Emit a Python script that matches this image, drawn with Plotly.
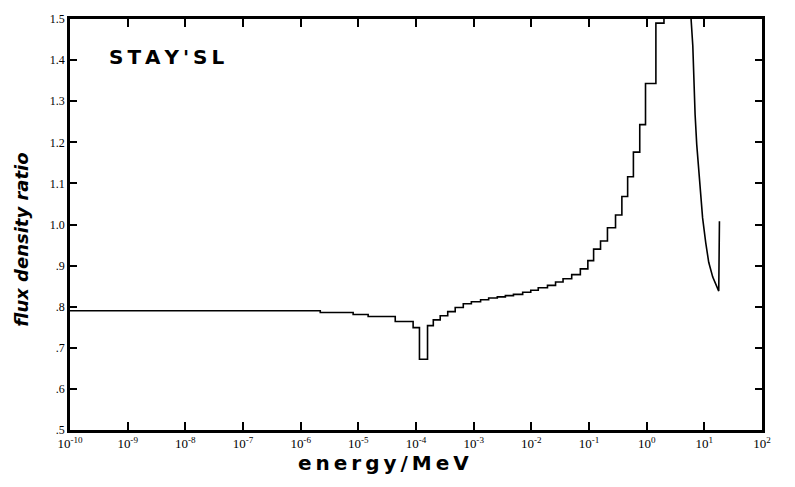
import plotly.graph_objects as go

# Step part: bin lower edges as log10(energy / MeV) and flux density ratio per bin
log_energy = [-10.0, -5.66, -5.09, -4.83, -4.36, -4.05, -3.94, -3.80, -3.70, -3.58,
              -3.45, -3.32, -3.18, -3.04, -2.88, -2.74, -2.59, -2.45, -2.31, -2.15,
              -2.01, -1.88, -1.72, -1.58, -1.45, -1.30, -1.15, -1.02, -0.92, -0.80,
              -0.68, -0.54, -0.43, -0.33, -0.23, -0.12, -0.02, 0.16, 0.30, 0.765]
ratio = [0.790, 0.786, 0.781, 0.776, 0.764, 0.749, 0.672, 0.754, 0.768, 0.778,
         0.788, 0.798, 0.807, 0.812, 0.817, 0.821, 0.824, 0.827, 0.830, 0.835,
         0.840, 0.846, 0.852, 0.860, 0.868, 0.878, 0.892, 0.912, 0.940, 0.960,
         0.992, 1.023, 1.068, 1.116, 1.176, 1.243, 1.343, 1.490, 1.750, 1.750]

# High-energy fall-off (finely resolved, drawn as a continuous curve)
log_energy_high = [0.765, 0.77, 0.80, 0.816, 0.84, 0.868, 0.90, 0.94, 0.97,
                   1.024, 1.076, 1.146, 1.198, 1.25, 1.262]
ratio_high = [1.750, 1.500, 1.435, 1.340, 1.267, 1.195, 1.135, 1.076, 1.016,
              0.956, 0.908, 0.872, 0.853, 0.838, 1.008]

x_exponents = list(range(-10, 3))
x_ticklabels = [f"10<sup>{k}</sup>" for k in x_exponents]
y_ticks = [0.5, 0.6, 0.7, 0.8, 0.9, 1.0, 1.1, 1.2, 1.3, 1.4, 1.5]
y_ticklabels = [".5", ".6", ".7", ".8", ".9", "1.0", "1.1", "1.2", "1.3", "1.4", "1.5"]

energy = [10 ** v for v in log_energy]
energy_high = [10 ** v for v in log_energy_high]

fig = go.Figure()
fig.add_trace(go.Scatter(
    x=energy, y=ratio, mode="lines", line_shape="hv",
    line=dict(color="black", width=1.6), showlegend=False,
))
fig.add_trace(go.Scatter(
    x=energy_high, y=ratio_high, mode="lines",
    line=dict(color="black", width=1.6), showlegend=False,
))

fig.update_layout(
    width=795, height=487,
    margin=dict(l=70, r=33, t=13, b=57),
    paper_bgcolor="white", plot_bgcolor="white",
    xaxis=dict(
        type="log", range=[-10, 2],
        tickvals=[10 ** k for k in x_exponents], ticktext=x_ticklabels,
        ticks="inside", ticklen=8, tickwidth=2, tickcolor="black",
        showline=True, linecolor="black", linewidth=2.5, mirror="ticks",
        showgrid=False, zeroline=False,
        tickfont=dict(family="Liberation Serif", size=13, color="black"),
    ),
    yaxis=dict(
        range=[0.5, 1.5],
        tickvals=y_ticks, ticktext=y_ticklabels,
        ticks="inside", ticklen=7, tickwidth=2, tickcolor="black",
        showline=True, linecolor="black", linewidth=2.5, mirror="ticks",
        showgrid=False, zeroline=False,
        tickfont=dict(family="Liberation Serif", size=12, color="black"),
    ),
    annotations=[
        dict(text="S\u2009T\u2009A\u2009Y\u2009'\u2009S\u2009L",
             x=(167 - 70) / 692, y=(430 - 52) / 417,
             xref="paper", yref="paper", xanchor="center", yanchor="middle",
             showarrow=False,
             font=dict(family="DejaVu Sans", size=20, color="black", weight="bold")),
        dict(text="e\u2009n\u2009e\u2009r\u2009g\u2009y\u2009/\u2009M\u2009e\u2009V",
             x=(383 - 70) / 692, y=(430 - 463) / 417, xref="paper", yref="paper",
             xanchor="center", yanchor="middle", showarrow=False,
             font=dict(family="DejaVu Sans", size=20, color="black", weight="bold")),
        dict(text="<i>flux density ratio</i>", x=(22 - 70) / 692, y=(430 - 237) / 417,
             xref="paper", yref="paper", xanchor="center", yanchor="middle",
             textangle=-90, showarrow=False,
             font=dict(family="DejaVu Sans", size=18, color="black", weight="bold")),
    ],
)

fig.write_html("out.html")
